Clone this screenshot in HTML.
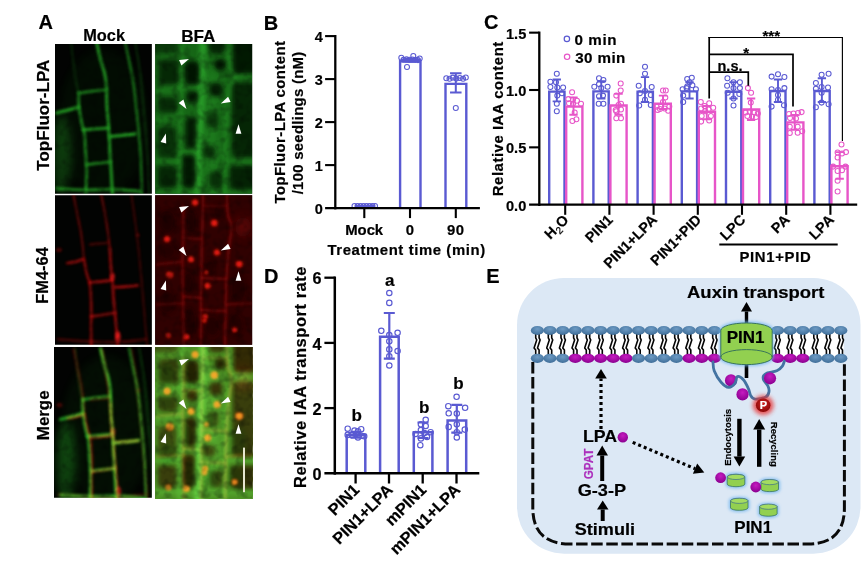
<!DOCTYPE html>
<html><head><meta charset="utf-8"><title>Figure</title>
<style>
html,body{margin:0;padding:0;background:#fff;}
body{width:865px;height:565px;overflow:hidden;}
svg{display:block;font-family:"Liberation Sans",Arial,Helvetica,sans-serif;}
text{stroke-width:0.2px;paint-order:stroke;stroke-linejoin:round}
</style></head><body>
<svg width="865" height="565" viewBox="0 0 865 565">
<defs><filter id="b1" filterUnits="userSpaceOnUse" x="-150" y="-150" width="700" height="900"><feGaussianBlur stdDeviation="5"/></filter><filter id="b2" filterUnits="userSpaceOnUse" x="-150" y="-150" width="700" height="900"><feGaussianBlur stdDeviation="8"/></filter><filter id="b3" filterUnits="userSpaceOnUse" x="-150" y="-150" width="700" height="900"><feGaussianBlur stdDeviation="18"/></filter><filter id="tex" filterUnits="userSpaceOnUse" x="-8" y="-8" width="379" height="591" color-interpolation-filters="sRGB"><feTurbulence type="fractalNoise" baseFrequency="0.03" numOctaves="2" seed="11" result="n"/><feColorMatrix in="n" type="matrix" values="0 0 0 0 0  0 0 0 0 0  0 0 0 0 0  0 0.8 0 0 0.55" result="a"/><feComposite in="SourceGraphic" in2="a" operator="in"/></filter><clipPath id="cl"><rect x="0" y="0" width="363.0" height="565.1"/></clipPath><g id="mockG"><ellipse cx="25" cy="420" rx="35" ry="150" fill="#30e030" opacity="0.28" filter="url(#b3)"/><ellipse cx="180" cy="300" rx="170" ry="280" fill="#30e030" opacity="0.05" filter="url(#b3)"/><path d="M155.0,-5.0 C157.5,5.8 165.0,40.8 170.0,60.0 C175.0,79.2 181.3,93.3 185.0,110.0 C188.7,126.7 190.3,136.7 192.0,160.0 C193.7,183.3 193.7,226.7 195.0,250.0 C196.3,273.3 198.3,275.0 200.0,300.0 C201.7,325.0 203.3,370.0 205.0,400.0 C206.7,430.0 208.3,451.7 210.0,480.0 C211.7,508.3 214.2,555.0 215.0,570.0" fill="none" stroke="#30e030" stroke-width="9" stroke-linecap="round" opacity="0.95" filter="url(#b1)"/><path d="M88.0,185.0 C88.3,194.2 88.0,220.8 90.0,240.0 C92.0,259.2 96.7,283.3 100.0,300.0 C103.3,316.7 107.5,320.0 110.0,340.0 C112.5,360.0 113.7,396.7 115.0,420.0 C116.3,443.3 118.0,455.0 118.0,480.0 C118.0,505.0 115.5,555.0 115.0,570.0" fill="none" stroke="#30e030" stroke-width="8" stroke-linecap="round" opacity="0.9" filter="url(#b1)"/><path d="M262.0,-5.0 C265.0,9.2 274.5,52.5 280.0,80.0 C285.5,107.5 290.8,131.7 295.0,160.0 C299.2,188.3 301.7,218.3 305.0,250.0 C308.3,281.7 312.2,316.7 315.0,350.0 C317.8,383.3 320.3,413.3 322.0,450.0 C323.7,486.7 324.5,550.0 325.0,570.0" fill="none" stroke="#30e030" stroke-width="7" stroke-linecap="round" opacity="0.8" filter="url(#b1)"/><path d="M300.0,-5.0 C303.3,15.8 314.7,77.5 320.0,120.0 C325.3,162.5 327.8,203.3 332.0,250.0 C336.2,296.7 341.7,346.7 345.0,400.0 C348.3,453.3 350.8,541.7 352.0,570.0" fill="none" stroke="#30e030" stroke-width="6" stroke-linecap="round" opacity="0.3" filter="url(#b1)"/><path d="M60.0,-5.0 C62.0,12.5 67.7,68.3 72.0,100.0 C76.3,131.7 83.7,170.8 86.0,185.0" fill="none" stroke="#30e030" stroke-width="6" stroke-linecap="round" opacity="0.25" filter="url(#b1)"/><path d="M90.0,188.0 C98.3,186.7 123.3,182.2 140.0,180.0 C156.7,177.8 181.7,175.8 190.0,175.0" fill="none" stroke="#30e030" stroke-width="8" stroke-linecap="round" opacity="0.8" filter="url(#b1)"/><path d="M5.0,262.0 C11.7,260.3 31.2,255.7 45.0,252.0 C58.8,248.3 80.8,242.0 88.0,240.0" fill="none" stroke="#30e030" stroke-width="10" stroke-linecap="round" opacity="0.9" filter="url(#b1)"/><path d="M105.0,325.0 C112.5,324.5 134.5,323.2 150.0,322.0 C165.5,320.8 190.0,318.7 198.0,318.0" fill="none" stroke="#30e030" stroke-width="9" stroke-linecap="round" opacity="0.9" filter="url(#b1)"/><path d="M205.0,350.0 C212.5,349.3 234.2,347.7 250.0,346.0 C265.8,344.3 291.7,341.0 300.0,340.0" fill="none" stroke="#30e030" stroke-width="10" stroke-linecap="round" opacity="0.95" filter="url(#b1)"/><path d="M118.0,455.0 C125.0,454.2 145.0,451.7 160.0,450.0 C175.0,448.3 200.0,445.8 208.0,445.0" fill="none" stroke="#30e030" stroke-width="8" stroke-linecap="round" opacity="0.85" filter="url(#b1)"/><path d="M5.0,545.0 C24.2,545.8 85.0,549.5 120.0,550.0 C155.0,550.5 181.7,547.2 215.0,548.0 C248.3,548.8 302.5,553.8 320.0,555.0" fill="none" stroke="#30e030" stroke-width="10" stroke-linecap="round" opacity="0.8" filter="url(#b1)"/></g><g id="mockR"><path d="M172.0,-5.0 C174.2,5.8 181.2,39.2 185.0,60.0 C188.8,80.8 191.7,96.7 195.0,120.0 C198.3,143.3 203.3,186.7 205.0,200.0" fill="none" stroke="#ff1212" stroke-width="6" stroke-linecap="round" opacity="0.6" filter="url(#b1)"/><path d="M205.0,200.0 C205.8,213.3 208.3,260.0 210.0,280.0 C211.7,300.0 213.3,300.0 215.0,320.0 C216.7,340.0 217.8,373.3 220.0,400.0 C222.2,426.7 225.3,451.7 228.0,480.0 C230.7,508.3 234.7,555.0 236.0,570.0" fill="none" stroke="#ff1212" stroke-width="7" stroke-linecap="round" opacity="0.9" filter="url(#b1)"/><path d="M68.0,-5.0 C70.8,9.2 79.7,52.5 85.0,80.0 C90.3,107.5 96.2,133.3 100.0,160.0 C103.8,186.7 106.7,226.7 108.0,240.0" fill="none" stroke="#ff1212" stroke-width="6" stroke-linecap="round" opacity="0.55" filter="url(#b1)"/><path d="M108.0,240.0 C110.0,250.0 116.3,285.0 120.0,300.0 C123.7,315.0 127.5,313.3 130.0,330.0 C132.5,346.7 134.2,375.0 135.0,400.0 C135.8,425.0 135.0,451.7 135.0,480.0 C135.0,508.3 135.0,555.0 135.0,570.0" fill="none" stroke="#ff1212" stroke-width="6.5" stroke-linecap="round" opacity="0.85" filter="url(#b1)"/><path d="M285.0,-5.0 C287.5,12.5 295.5,65.8 300.0,100.0 C304.5,134.2 308.3,166.7 312.0,200.0 C315.7,233.3 318.2,258.3 322.0,300.0 C325.8,341.7 331.2,405.0 335.0,450.0 C338.8,495.0 343.3,550.0 345.0,570.0" fill="none" stroke="#ff1212" stroke-width="6" stroke-linecap="round" opacity="0.35" filter="url(#b1)"/><path d="M130.0,185.0 C135.8,184.5 153.3,183.2 165.0,182.0 C176.7,180.8 194.2,178.7 200.0,178.0" fill="none" stroke="#ff1212" stroke-width="6" stroke-linecap="round" opacity="0.5" filter="url(#b1)"/><path d="M45.0,255.0 C50.0,254.2 65.0,252.5 75.0,250.0 C85.0,247.5 100.0,241.7 105.0,240.0" fill="none" stroke="#ff1212" stroke-width="8" stroke-linecap="round" opacity="0.75" filter="url(#b1)"/><path d="M130.0,328.0 C136.7,327.3 155.8,325.7 170.0,324.0 C184.2,322.3 207.5,319.0 215.0,318.0" fill="none" stroke="#ff1212" stroke-width="8" stroke-linecap="round" opacity="0.9" filter="url(#b1)"/><path d="M225.0,345.0 C232.5,344.5 255.8,343.2 270.0,342.0 C284.2,340.8 303.3,338.7 310.0,338.0" fill="none" stroke="#ff1212" stroke-width="8" stroke-linecap="round" opacity="0.85" filter="url(#b1)"/><path d="M135.0,455.0 C142.5,453.8 165.0,450.5 180.0,448.0 C195.0,445.5 217.5,441.3 225.0,440.0" fill="none" stroke="#ff1212" stroke-width="7" stroke-linecap="round" opacity="0.8" filter="url(#b1)"/><path d="M10.0,540.0 C28.3,541.3 81.7,546.3 120.0,548.0 C158.3,549.7 203.3,551.3 240.0,550.0 C276.7,548.7 323.3,541.7 340.0,540.0" fill="none" stroke="#ff1212" stroke-width="8" stroke-linecap="round" opacity="0.4" filter="url(#b1)"/><ellipse cx="235" cy="530" rx="9" ry="20" fill="#ff2020" opacity="0.95" filter="url(#b1)"/><ellipse cx="215" cy="305" rx="8" ry="14" fill="#ff2020" opacity="0.8" filter="url(#b1)"/><ellipse cx="15" cy="205" rx="10" ry="7" fill="#ff1212" opacity="0.5" filter="url(#b1)"/><ellipse cx="310" cy="150" rx="6" ry="6" fill="#ff1212" opacity="0.4" filter="url(#b1)"/></g><g id="bfaG"><rect x="-20" y="-60" width="403.0" height="685.1" fill="#1c801c"/><path d="M181.0,-60.0 C180.8,-50.0 180.8,-31.7 180.0,0.0 C179.2,31.7 177.7,83.3 176.0,130.0 C174.3,176.7 172.3,231.7 170.0,280.0 C167.7,328.3 163.7,360.0 162.0,420.0 C160.3,480.0 160.3,603.3 160.0,640.0" fill="none" stroke="#3ad83a" stroke-width="26" stroke-linecap="round" opacity="0.75" filter="url(#b2)"/><path d="M215.0,100.0 C214.5,125.0 212.8,200.0 212.0,250.0 C211.2,300.0 209.5,355.0 210.0,400.0 C210.5,445.0 214.2,500.0 215.0,520.0" fill="none" stroke="#3ad83a" stroke-width="40" stroke-linecap="round" opacity="0.35" filter="url(#b3)"/><path d="M99.0,-60.0 C98.8,-25.0 98.5,98.3 98.0,150.0 C97.5,201.7 97.0,208.3 96.0,250.0 C95.0,291.7 92.8,335.0 92.0,400.0 C91.2,465.0 91.2,600.0 91.0,640.0" fill="none" stroke="#3ad83a" stroke-width="10" stroke-linecap="round" opacity="0.5" filter="url(#b2)"/><path d="M272.0,-60.0 C272.3,-46.7 272.3,-2.5 274.0,20.0 C275.7,42.5 278.3,60.0 282.0,75.0 C285.7,90.0 296.0,97.5 296.0,110.0 C296.0,122.5 286.7,126.7 282.0,150.0 C277.3,173.3 271.3,205.0 268.0,250.0 C264.7,295.0 263.3,355.0 262.0,420.0 C260.7,485.0 260.3,603.3 260.0,640.0" fill="none" stroke="#3ad83a" stroke-width="10" stroke-linecap="round" opacity="0.55" filter="url(#b2)"/><path d="M0.0,160.0 C8.3,159.7 33.7,159.7 50.0,158.0 C66.3,156.3 90.0,151.3 98.0,150.0" fill="none" stroke="#3ad83a" stroke-width="9" stroke-linecap="round" opacity="0.35" filter="url(#b2)"/><path d="M0.0,270.0 C8.3,268.7 34.0,265.3 50.0,262.0 C66.0,258.7 88.3,252.0 96.0,250.0" fill="none" stroke="#3ad83a" stroke-width="9" stroke-linecap="round" opacity="0.4" filter="url(#b2)"/><path d="M0.0,425.0 L92.0,424.0" fill="none" stroke="#3ad83a" stroke-width="9" stroke-linecap="round" opacity="0.45" filter="url(#b2)"/><path d="M96.0,148.0 L176.0,146.0" fill="none" stroke="#3ad83a" stroke-width="9" stroke-linecap="round" opacity="0.45" filter="url(#b2)"/><path d="M94.0,388.0 L162.0,386.0" fill="none" stroke="#3ad83a" stroke-width="9" stroke-linecap="round" opacity="0.45" filter="url(#b2)"/><path d="M262.0,424.0 L370.0,426.0" fill="none" stroke="#3ad83a" stroke-width="9" stroke-linecap="round" opacity="0.4" filter="url(#b2)"/><path d="M296.0,110.0 L340.0,104.0" fill="none" stroke="#3ad83a" stroke-width="9" stroke-linecap="round" opacity="0.5" filter="url(#b2)"/><path d="M0.0,542.0 L370.0,542.0" fill="none" stroke="#3ad83a" stroke-width="9" stroke-linecap="round" opacity="0.4" filter="url(#b2)"/><rect x="14" y="45" width="74" height="91" rx="16" ry="16" fill="#021202" opacity="0.72" filter="url(#b2)"/><rect x="12" y="185" width="72" height="57" rx="16" ry="16" fill="#021202" opacity="0.7" filter="url(#b2)"/><rect x="10" y="296" width="70" height="115" rx="16" ry="16" fill="#021202" opacity="0.62" filter="url(#b2)"/><rect x="10" y="442" width="70" height="83" rx="16" ry="16" fill="#021202" opacity="0.75" filter="url(#b2)"/><rect x="-30" y="-60" width="116" height="80" rx="16" ry="16" fill="#021202" opacity="0.55" filter="url(#b2)"/><rect x="112" y="50" width="52" height="86" rx="16" ry="16" fill="#021202" opacity="0.95" filter="url(#b2)"/><rect x="117" y="163" width="43" height="40" rx="16" ry="16" fill="#021202" opacity="0.9" filter="url(#b2)"/><rect x="114" y="262" width="38" height="114" rx="16" ry="16" fill="#021202" opacity="0.88" filter="url(#b2)"/><rect x="104" y="401" width="46" height="124" rx="16" ry="16" fill="#021202" opacity="0.9" filter="url(#b2)"/><rect x="222" y="41" width="44" height="44" rx="22" ry="22" fill="#021202" opacity="0.95" filter="url(#b2)"/><rect x="202" y="131" width="50" height="50" rx="16" ry="16" fill="#021202" opacity="0.85" filter="url(#b2)"/><rect x="192" y="240" width="46" height="60" rx="16" ry="16" fill="#021202" opacity="0.6" filter="url(#b2)"/><rect x="178" y="366" width="48" height="45" rx="16" ry="16" fill="#021202" opacity="0.7" filter="url(#b2)"/><rect x="202" y="462" width="50" height="63" rx="16" ry="16" fill="#021202" opacity="0.7" filter="url(#b2)"/><rect x="202" y="-60" width="60" height="80" rx="16" ry="16" fill="#021202" opacity="0.8" filter="url(#b2)"/><rect x="292" y="-60" width="88" height="155" rx="16" ry="16" fill="#021202" opacity="0.9" filter="url(#b2)"/><rect x="288" y="130" width="92" height="280" rx="16" ry="16" fill="#021202" opacity="0.75" filter="url(#b2)"/><rect x="280" y="442" width="100" height="88" rx="16" ry="16" fill="#021202" opacity="0.8" filter="url(#b2)"/></g><g id="bfaR"><rect x="-10" y="-10" width="383.0" height="595.1" fill="#360202"/><ellipse cx="45" cy="100" rx="30" ry="42" fill="#120000" opacity="0.6" filter="url(#b2)"/><ellipse cx="135" cy="100" rx="20" ry="45" fill="#120000" opacity="0.6" filter="url(#b2)"/><ellipse cx="125" cy="330" rx="16" ry="40" fill="#120000" opacity="0.6" filter="url(#b2)"/><ellipse cx="130" cy="475" rx="20" ry="55" fill="#120000" opacity="0.6" filter="url(#b2)"/><ellipse cx="312" cy="350" rx="26" ry="50" fill="#120000" opacity="0.5" filter="url(#b2)"/><ellipse cx="215" cy="490" rx="24" ry="35" fill="#120000" opacity="0.5" filter="url(#b2)"/><ellipse cx="45" cy="400" rx="28" ry="40" fill="#120000" opacity="0.5" filter="url(#b2)"/><ellipse cx="240" cy="60" rx="18" ry="25" fill="#120000" opacity="0.5" filter="url(#b2)"/><ellipse cx="45" cy="210" rx="28" ry="26" fill="#120000" opacity="0.4" filter="url(#b2)"/><ellipse cx="300" cy="485" rx="25" ry="40" fill="#120000" opacity="0.5" filter="url(#b2)"/><ellipse cx="205" cy="270" rx="16" ry="25" fill="#120000" opacity="0.5" filter="url(#b2)"/><ellipse cx="330" cy="120" rx="30" ry="40" fill="#a00808" opacity="0.45" filter="url(#b3)"/><path d="M105.0,40.0 C105.2,58.3 106.3,115.0 106.0,150.0 C105.7,185.0 103.3,220.0 103.0,250.0 C102.7,280.0 103.5,301.7 104.0,330.0 C104.5,358.3 105.3,380.0 106.0,420.0 C106.7,460.0 107.7,545.0 108.0,570.0" fill="none" stroke="#ff1212" stroke-width="6" stroke-linecap="round" opacity="0.5" filter="url(#b1)"/><path d="M180.0,-5.0 C179.7,12.5 178.8,65.8 178.0,100.0 C177.2,134.2 175.7,166.7 175.0,200.0 C174.3,233.3 174.5,266.7 174.0,300.0 C173.5,333.3 172.3,355.0 172.0,400.0 C171.7,445.0 172.0,541.7 172.0,570.0" fill="none" stroke="#ff1212" stroke-width="6" stroke-linecap="round" opacity="0.55" filter="url(#b1)"/><path d="M270.0,-5.0 C270.3,7.5 269.3,49.2 272.0,70.0 C274.7,90.8 285.3,98.3 286.0,120.0 C286.7,141.7 279.0,170.0 276.0,200.0 C273.0,230.0 269.8,266.7 268.0,300.0 C266.2,333.3 266.0,355.0 265.0,400.0 C264.0,445.0 262.5,541.7 262.0,570.0" fill="none" stroke="#ff1212" stroke-width="6" stroke-linecap="round" opacity="0.55" filter="url(#b1)"/><path d="M5.0,260.0 L100.0,250.0" fill="none" stroke="#ff1212" stroke-width="6" stroke-linecap="round" opacity="0.4" filter="url(#b1)"/><path d="M5.0,410.0 L105.0,405.0" fill="none" stroke="#ff1212" stroke-width="6" stroke-linecap="round" opacity="0.35" filter="url(#b1)"/><path d="M105.0,380.0 L172.0,385.0" fill="none" stroke="#ff1212" stroke-width="6" stroke-linecap="round" opacity="0.45" filter="url(#b1)"/><path d="M174.0,310.0 L268.0,315.0" fill="none" stroke="#ff1212" stroke-width="6" stroke-linecap="round" opacity="0.45" filter="url(#b1)"/><path d="M172.0,430.0 L265.0,435.0" fill="none" stroke="#ff1212" stroke-width="6" stroke-linecap="round" opacity="0.45" filter="url(#b1)"/><path d="M265.0,410.0 L360.0,405.0" fill="none" stroke="#ff1212" stroke-width="6" stroke-linecap="round" opacity="0.4" filter="url(#b1)"/><path d="M105.0,160.0 L175.0,165.0" fill="none" stroke="#ff1212" stroke-width="6" stroke-linecap="round" opacity="0.35" filter="url(#b1)"/><path d="M180.0,40.0 L270.0,42.0" fill="none" stroke="#ff1212" stroke-width="6" stroke-linecap="round" opacity="0.3" filter="url(#b1)"/><ellipse cx="150" cy="28" rx="11.0" ry="11.0" fill="#ff1810" opacity="1" filter="url(#b1)"/><ellipse cx="150" cy="28" rx="6.0" ry="6.0" fill="#ff2818" opacity="1" filter="url(#b1)"/><ellipse cx="222" cy="105" rx="12.100000000000001" ry="12.100000000000001" fill="#ff1810" opacity="1" filter="url(#b1)"/><ellipse cx="222" cy="105" rx="6.6" ry="6.6" fill="#ff2818" opacity="1" filter="url(#b1)"/><ellipse cx="45" cy="165" rx="11.0" ry="11.0" fill="#ff1810" opacity="1" filter="url(#b1)"/><ellipse cx="45" cy="165" rx="6.0" ry="6.0" fill="#ff2818" opacity="1" filter="url(#b1)"/><ellipse cx="135" cy="240" rx="11.0" ry="11.0" fill="#ff1810" opacity="1" filter="url(#b1)"/><ellipse cx="135" cy="240" rx="6.0" ry="6.0" fill="#ff2818" opacity="1" filter="url(#b1)"/><ellipse cx="232" cy="215" rx="11.0" ry="11.0" fill="#ff1810" opacity="1" filter="url(#b1)"/><ellipse cx="232" cy="215" rx="6.0" ry="6.0" fill="#ff2818" opacity="1" filter="url(#b1)"/><ellipse cx="315" cy="258" rx="12.100000000000001" ry="12.100000000000001" fill="#ff1810" opacity="1" filter="url(#b1)"/><ellipse cx="315" cy="258" rx="6.6" ry="6.6" fill="#ff2818" opacity="1" filter="url(#b1)"/><ellipse cx="55" cy="298" rx="12.100000000000001" ry="12.100000000000001" fill="#ff1810" opacity="1" filter="url(#b1)"/><ellipse cx="55" cy="298" rx="6.6" ry="6.6" fill="#ff2818" opacity="1" filter="url(#b1)"/><ellipse cx="192" cy="290" rx="6.6000000000000005" ry="6.6000000000000005" fill="#ff1810" opacity="1" filter="url(#b1)"/><ellipse cx="192" cy="290" rx="3.5999999999999996" ry="3.5999999999999996" fill="#ff2818" opacity="1" filter="url(#b1)"/><ellipse cx="197" cy="340" rx="11.0" ry="11.0" fill="#ff1810" opacity="1" filter="url(#b1)"/><ellipse cx="197" cy="340" rx="6.0" ry="6.0" fill="#ff2818" opacity="1" filter="url(#b1)"/><ellipse cx="188" cy="455" rx="8.8" ry="8.8" fill="#ff1810" opacity="1" filter="url(#b1)"/><ellipse cx="188" cy="455" rx="4.8" ry="4.8" fill="#ff2818" opacity="1" filter="url(#b1)"/><ellipse cx="185" cy="470" rx="7.700000000000001" ry="7.700000000000001" fill="#ff1810" opacity="1" filter="url(#b1)"/><ellipse cx="185" cy="470" rx="4.2" ry="4.2" fill="#ff2818" opacity="1" filter="url(#b1)"/><ellipse cx="298" cy="505" rx="8.8" ry="8.8" fill="#ff1810" opacity="1" filter="url(#b1)"/><ellipse cx="298" cy="505" rx="4.8" ry="4.8" fill="#ff2818" opacity="1" filter="url(#b1)"/><ellipse cx="50" cy="525" rx="8.8" ry="8.8" fill="#ff1810" opacity="1" filter="url(#b1)"/><ellipse cx="50" cy="525" rx="4.8" ry="4.8" fill="#ff2818" opacity="1" filter="url(#b1)"/><ellipse cx="118" cy="530" rx="9.9" ry="9.9" fill="#ff1810" opacity="1" filter="url(#b1)"/><ellipse cx="118" cy="530" rx="5.3999999999999995" ry="5.3999999999999995" fill="#ff2818" opacity="1" filter="url(#b1)"/></g><g id="bfaS"><ellipse cx="150" cy="28" rx="10.5" ry="10.5" fill="#f0a020" opacity="1" filter="url(#b1)"/><ellipse cx="150" cy="28" rx="6.0" ry="6.0" fill="#f8b028" opacity="1" filter="url(#b1)"/><ellipse cx="222" cy="105" rx="11.55" ry="11.55" fill="#f0a020" opacity="1" filter="url(#b1)"/><ellipse cx="222" cy="105" rx="6.6" ry="6.6" fill="#f8b028" opacity="1" filter="url(#b1)"/><ellipse cx="45" cy="165" rx="10.5" ry="10.5" fill="#f0a020" opacity="1" filter="url(#b1)"/><ellipse cx="45" cy="165" rx="6.0" ry="6.0" fill="#f8b028" opacity="1" filter="url(#b1)"/><ellipse cx="135" cy="240" rx="10.5" ry="10.5" fill="#f0a020" opacity="1" filter="url(#b1)"/><ellipse cx="135" cy="240" rx="6.0" ry="6.0" fill="#f8b028" opacity="1" filter="url(#b1)"/><ellipse cx="232" cy="215" rx="10.5" ry="10.5" fill="#f0a020" opacity="1" filter="url(#b1)"/><ellipse cx="232" cy="215" rx="6.0" ry="6.0" fill="#f8b028" opacity="1" filter="url(#b1)"/><ellipse cx="315" cy="258" rx="11.55" ry="11.55" fill="#f0a020" opacity="1" filter="url(#b1)"/><ellipse cx="315" cy="258" rx="6.6" ry="6.6" fill="#f8b028" opacity="1" filter="url(#b1)"/><ellipse cx="55" cy="298" rx="11.55" ry="11.55" fill="#f0a020" opacity="1" filter="url(#b1)"/><ellipse cx="55" cy="298" rx="6.6" ry="6.6" fill="#f8b028" opacity="1" filter="url(#b1)"/><ellipse cx="192" cy="290" rx="6.300000000000001" ry="6.300000000000001" fill="#f0a020" opacity="1" filter="url(#b1)"/><ellipse cx="192" cy="290" rx="3.5999999999999996" ry="3.5999999999999996" fill="#f8b028" opacity="1" filter="url(#b1)"/><ellipse cx="197" cy="340" rx="10.5" ry="10.5" fill="#f0a020" opacity="1" filter="url(#b1)"/><ellipse cx="197" cy="340" rx="6.0" ry="6.0" fill="#f8b028" opacity="1" filter="url(#b1)"/><ellipse cx="188" cy="455" rx="8.4" ry="8.4" fill="#f0a020" opacity="1" filter="url(#b1)"/><ellipse cx="188" cy="455" rx="4.8" ry="4.8" fill="#f8b028" opacity="1" filter="url(#b1)"/><ellipse cx="185" cy="470" rx="7.3500000000000005" ry="7.3500000000000005" fill="#f0a020" opacity="1" filter="url(#b1)"/><ellipse cx="185" cy="470" rx="4.2" ry="4.2" fill="#f8b028" opacity="1" filter="url(#b1)"/><ellipse cx="298" cy="505" rx="8.4" ry="8.4" fill="#f0a020" opacity="1" filter="url(#b1)"/><ellipse cx="298" cy="505" rx="4.8" ry="4.8" fill="#f8b028" opacity="1" filter="url(#b1)"/><ellipse cx="50" cy="525" rx="8.4" ry="8.4" fill="#f0a020" opacity="1" filter="url(#b1)"/><ellipse cx="50" cy="525" rx="4.8" ry="4.8" fill="#f8b028" opacity="1" filter="url(#b1)"/><ellipse cx="118" cy="530" rx="9.450000000000001" ry="9.450000000000001" fill="#f0a020" opacity="1" filter="url(#b1)"/><ellipse cx="118" cy="530" rx="5.3999999999999995" ry="5.3999999999999995" fill="#f8b028" opacity="1" filter="url(#b1)"/></g><clipPath id="ic1"><rect x="55.0" y="44.0" width="96.85" height="149.70"/></clipPath><clipPath id="ic2"><rect x="155.15" y="44.0" width="97.00" height="149.70"/></clipPath><clipPath id="ic3"><rect x="55.0" y="195.25" width="96.85" height="149.45"/></clipPath><clipPath id="ic4"><rect x="155.15" y="195.25" width="97.00" height="149.45"/></clipPath><clipPath id="ic5"><rect x="54.0" y="347.0" width="97.85" height="150.70"/></clipPath><clipPath id="ic6"><rect x="155.15" y="347.2" width="97.00" height="151.40"/></clipPath><filter id="glow" x="-30%" y="-30%" width="160%" height="160%"><feGaussianBlur stdDeviation="1.6"/></filter><filter id="glow2" x="-50%" y="-50%" width="200%" height="200%"><feGaussianBlur stdDeviation="2.2"/></filter><radialGradient id="hd" cx="50%" cy="35%" r="65%"><stop offset="0" stop-color="#6e9bc4"/><stop offset="1" stop-color="#3f6e99"/></radialGradient><radialGradient id="hm" cx="50%" cy="35%" r="65%"><stop offset="0" stop-color="#c61cc0"/><stop offset="1" stop-color="#8a0090"/></radialGradient><radialGradient id="pr" cx="50%" cy="40%" r="60%"><stop offset="0" stop-color="#d02020"/><stop offset="1" stop-color="#8a0808"/></radialGradient></defs>
<rect width="865" height="565" fill="#fff"/>
<g style="isolation:isolate">
<g clip-path="url(#ic1)">
<rect x="54.0" y="43.0" width="98.85" height="151.70" fill="#020302"/>
<g transform="translate(55.0,43.0) scale(0.26722)">
<g filter="url(#tex)">
<use href="#mockG" transform="translate(0,0)" opacity="0.85"/>
</g></g></g>
<g clip-path="url(#ic2)">
<rect x="154.15" y="43.0" width="99.00" height="151.70" fill="#020302"/>
<g transform="translate(155.0,43.0) scale(0.26722)">
<g filter="url(#tex)">
<use href="#bfaG" transform="translate(0,18)" opacity="0.8"/>
</g></g></g>
<g clip-path="url(#ic3)">
<rect x="54.0" y="194.25" width="98.85" height="151.45" fill="#020302"/>
<g transform="translate(55.0,195.0) scale(0.26722)">
<g filter="url(#tex)">
<use href="#mockR" transform="translate(0,0)" opacity="0.95"/>
</g></g></g>
<g clip-path="url(#ic4)">
<rect x="154.15" y="194.25" width="99.00" height="151.45" fill="#020302"/>
<g transform="translate(155.0,195.0) scale(0.26722)">
<g filter="url(#tex)">
<use href="#bfaR" transform="translate(0,0)" opacity="0.9"/>
</g></g></g>
<g clip-path="url(#ic5)">
<rect x="53.0" y="346.0" width="99.85" height="152.70" fill="#020302"/>
<g transform="translate(55.0,347.0) scale(0.26722)">
<g filter="url(#tex)">
<use href="#mockG" transform="translate(15,9)" opacity="1"/>
<use href="#mockR" transform="translate(2,12)" opacity="0.8" style="mix-blend-mode:screen"/>
</g></g></g>
<g clip-path="url(#ic6)">
<rect x="154.15" y="346.2" width="99.00" height="153.40" fill="#020302"/>
<g transform="translate(155.0,347.0) scale(0.26722)">
<g filter="url(#tex)">
<use href="#bfaG" transform="translate(0,0)" opacity="1"/>
<use href="#bfaG" transform="translate(0,0)" opacity="0.3" style="mix-blend-mode:screen"/>
<use href="#bfaR" transform="translate(0,0)" opacity="0.9" style="mix-blend-mode:screen"/>
<use href="#bfaS" transform="translate(0,0)" opacity="0.85"/>
</g></g></g>
</g>
<polygon points="189.0,59.0 181.4,65.4 179.1,60.0" fill="#fff"/>
<polygon points="186.5,109.0 178.7,102.9 183.4,99.6" fill="#fff"/>
<polygon points="220.8,103.6 228.1,96.8 230.6,102.0" fill="#fff"/>
<polygon points="238.5,124.2 241.4,133.7 235.6,133.7" fill="#fff"/>
<polygon points="165.9,133.5 166.2,143.4 160.6,141.9" fill="#fff"/>
<polygon points="189.0,206.0 181.4,212.4 179.1,207.0" fill="#fff"/>
<polygon points="186.5,256.0 178.7,249.9 183.4,246.6" fill="#fff"/>
<polygon points="220.8,250.6 228.1,243.8 230.6,249.0" fill="#fff"/>
<polygon points="238.5,271.2 241.4,280.7 235.6,280.7" fill="#fff"/>
<polygon points="165.9,280.5 166.2,290.4 160.6,288.9" fill="#fff"/>
<polygon points="189.0,359.0 181.4,365.4 179.1,360.0" fill="#fff"/>
<polygon points="186.5,409.0 178.7,402.9 183.4,399.6" fill="#fff"/>
<polygon points="220.8,403.6 228.1,396.8 230.6,402.0" fill="#fff"/>
<polygon points="238.5,424.2 241.4,433.7 235.6,433.7" fill="#fff"/>
<polygon points="165.9,433.5 166.2,443.4 160.6,441.9" fill="#fff"/>
<rect x="243.0" y="447.6" width="2.0" height="44.6" fill="#e6e6d0"/>
<text x="38.60" y="28.50" font-size="20.00" fill="#000" stroke="#000" font-weight="bold" >A</text>
<text x="83.20" y="40.80" font-size="16.35" fill="#000" stroke="#000" font-weight="bold" >Mock</text>
<text x="181.24" y="41.80" font-size="17.11" fill="#000" stroke="#000" font-weight="bold" >BFA</text>
<text transform="translate(48.90,170.71) rotate(-90)" font-size="17.06" fill="#000" stroke="#000" font-weight="bold" >TopFluor-LPA</text>
<text transform="translate(47.60,303.81) rotate(-90)" font-size="16.43" fill="#000" stroke="#000" font-weight="bold" >FM4-64</text>
<text transform="translate(49.00,440.14) rotate(-90)" font-size="16.87" fill="#000" stroke="#000" font-weight="bold" >Merge</text>
<text x="263.65" y="29.80" font-size="20.00" fill="#000" stroke="#000" font-weight="bold" >B</text>
<text x="322.80" y="214.10" font-size="14.5" text-anchor="end" fill="#000" stroke="#000" font-weight="bold" >0</text>
<text x="322.80" y="171.10" font-size="14.5" text-anchor="end" fill="#000" stroke="#000" font-weight="bold" >1</text>
<text x="322.80" y="128.10" font-size="14.5" text-anchor="end" fill="#000" stroke="#000" font-weight="bold" >2</text>
<text x="322.80" y="85.10" font-size="14.5" text-anchor="end" fill="#000" stroke="#000" font-weight="bold" >3</text>
<text x="322.80" y="42.10" font-size="14.5" text-anchor="end" fill="#000" stroke="#000" font-weight="bold" >4</text>
<text x="345.29" y="235.00" font-size="14.90" style="letter-spacing:-0.067px" fill="#000" stroke="#000" font-weight="bold" >Mock</text>
<text x="405.82" y="235.00" font-size="14.90" fill="#000" stroke="#000" font-weight="bold" >0</text>
<text x="447.08" y="235.00" font-size="14.90" style="letter-spacing:0.279px" fill="#000" stroke="#000" font-weight="bold" >90</text>
<text x="327.41" y="254.70" font-size="14.90" style="letter-spacing:0.594px" fill="#000" stroke="#000" font-weight="bold" >Treatment time (min)</text>
<text transform="translate(285.30,203.49) rotate(-90)" font-size="14.90" style="letter-spacing:0.421px" fill="#000" stroke="#000" font-weight="bold" >TopFluor-LPA content</text>
<text transform="translate(302.80,194.35) rotate(-90)" font-size="14.90" style="letter-spacing:0.291px" fill="#000" stroke="#000" font-weight="bold" >/100 seedlings (nM)</text>
<path d="M400.10,208.10 V61.20 H420.50 V208.10" fill="none" stroke="#5a5ad2" stroke-width="2.4"/>
<path d="M445.50,208.10 V83.90 H466.30 V208.10" fill="none" stroke="#5a5ad2" stroke-width="2.4"/>
<path d="M450.05,73.30 H461.55 M450.05,92.40 H461.55 M455.80,73.30 V92.40" fill="none" stroke="#5a5ad2" stroke-width="2"/>
<path d="M404.55,58.40 H416.05 M404.55,61.80 H416.05 M410.30,58.40 V61.80" fill="none" stroke="#5a5ad2" stroke-width="2"/>
<circle cx="354.50" cy="206.00" r="2.5" fill="none" stroke="#5a5ad2" stroke-width="1.05"/>
<circle cx="357.50" cy="206.00" r="2.5" fill="none" stroke="#5a5ad2" stroke-width="1.05"/>
<circle cx="360.50" cy="206.00" r="2.5" fill="none" stroke="#5a5ad2" stroke-width="1.05"/>
<circle cx="363.50" cy="206.00" r="2.5" fill="none" stroke="#5a5ad2" stroke-width="1.05"/>
<circle cx="366.50" cy="206.00" r="2.5" fill="none" stroke="#5a5ad2" stroke-width="1.05"/>
<circle cx="369.50" cy="206.00" r="2.5" fill="none" stroke="#5a5ad2" stroke-width="1.05"/>
<circle cx="372.50" cy="206.00" r="2.5" fill="none" stroke="#5a5ad2" stroke-width="1.05"/>
<circle cx="375.00" cy="206.00" r="2.5" fill="none" stroke="#5a5ad2" stroke-width="1.05"/>
<line x1="355.00" y1="206.20" x2="375.00" y2="206.20" stroke="#5a5ad2" stroke-width="2.8" />
<circle cx="401.30" cy="57.70" r="2.5" fill="none" stroke="#5a5ad2" stroke-width="1.05"/>
<circle cx="413.30" cy="55.90" r="2.5" fill="none" stroke="#5a5ad2" stroke-width="1.05"/>
<circle cx="419.70" cy="58.40" r="2.5" fill="none" stroke="#5a5ad2" stroke-width="1.05"/>
<circle cx="407.00" cy="66.90" r="2.5" fill="none" stroke="#5a5ad2" stroke-width="1.05"/>
<circle cx="403.50" cy="59.80" r="2.5" fill="none" stroke="#5a5ad2" stroke-width="1.05"/>
<circle cx="406.50" cy="59.30" r="2.5" fill="none" stroke="#5a5ad2" stroke-width="1.05"/>
<circle cx="409.50" cy="59.80" r="2.5" fill="none" stroke="#5a5ad2" stroke-width="1.05"/>
<circle cx="412.50" cy="59.50" r="2.5" fill="none" stroke="#5a5ad2" stroke-width="1.05"/>
<circle cx="415.50" cy="59.80" r="2.5" fill="none" stroke="#5a5ad2" stroke-width="1.05"/>
<circle cx="418.00" cy="60.10" r="2.5" fill="none" stroke="#5a5ad2" stroke-width="1.05"/>
<line x1="401.00" y1="59.90" x2="420.00" y2="59.90" stroke="#5a5ad2" stroke-width="3.0" />
<circle cx="446.30" cy="78.20" r="2.5" fill="none" stroke="#5a5ad2" stroke-width="1.05"/>
<circle cx="449.50" cy="78.80" r="2.5" fill="none" stroke="#5a5ad2" stroke-width="1.05"/>
<circle cx="452.80" cy="77.60" r="2.5" fill="none" stroke="#5a5ad2" stroke-width="1.05"/>
<circle cx="456.30" cy="78.60" r="2.5" fill="none" stroke="#5a5ad2" stroke-width="1.05"/>
<circle cx="459.80" cy="78.00" r="2.5" fill="none" stroke="#5a5ad2" stroke-width="1.05"/>
<circle cx="463.10" cy="78.80" r="2.5" fill="none" stroke="#5a5ad2" stroke-width="1.05"/>
<circle cx="465.80" cy="77.40" r="2.5" fill="none" stroke="#5a5ad2" stroke-width="1.05"/>
<circle cx="455.80" cy="108.00" r="2.5" fill="none" stroke="#5a5ad2" stroke-width="1.05"/>
<line x1="447.00" y1="78.30" x2="465.00" y2="78.30" stroke="#5a5ad2" stroke-width="2.0" opacity="0.6"/>
<line x1="335.30" y1="35.00" x2="335.30" y2="209.40" stroke="#000" stroke-width="2.3"/>
<line x1="325.10" y1="208.10" x2="479.90" y2="208.10" stroke="#000" stroke-width="2.3"/>
<line x1="325.10" y1="165.10" x2="335.30" y2="165.10" stroke="#000" stroke-width="2.1"/>
<line x1="325.10" y1="122.10" x2="335.30" y2="122.10" stroke="#000" stroke-width="2.1"/>
<line x1="325.10" y1="79.10" x2="335.30" y2="79.10" stroke="#000" stroke-width="2.1"/>
<line x1="325.10" y1="36.10" x2="335.30" y2="36.10" stroke="#000" stroke-width="2.1"/>
<line x1="364.30" y1="208.10" x2="364.30" y2="218.10" stroke="#000" stroke-width="2.1"/>
<line x1="410.00" y1="208.10" x2="410.00" y2="218.10" stroke="#000" stroke-width="2.1"/>
<line x1="455.80" y1="208.10" x2="455.80" y2="218.10" stroke="#000" stroke-width="2.1"/>
<text x="483.95" y="28.90" font-size="20.00" fill="#000" stroke="#000" font-weight="bold" >C</text>
<text x="526.30" y="210.70" font-size="14.6" text-anchor="end" fill="#000" stroke="#000" font-weight="bold" >0.0</text>
<text x="526.30" y="153.35" font-size="14.6" text-anchor="end" fill="#000" stroke="#000" font-weight="bold" >0.5</text>
<text x="526.30" y="96.00" font-size="14.6" text-anchor="end" fill="#000" stroke="#000" font-weight="bold" >1.0</text>
<text x="526.30" y="38.65" font-size="14.6" text-anchor="end" fill="#000" stroke="#000" font-weight="bold" >1.5</text>
<text transform="translate(502.70,196.21) rotate(-90)" font-size="14.90" style="letter-spacing:0.539px" fill="#000" stroke="#000" font-weight="bold" >Relative IAA content</text>
<circle cx="566.90" cy="38.90" r="2.7" fill="none" stroke="#5a5ad2" stroke-width="1.2"/>
<text x="574.49" y="44.90" font-size="15.20" style="letter-spacing:0.612px" fill="#000" stroke="#000" font-weight="bold" >0 min</text>
<circle cx="567.10" cy="56.80" r="2.7" fill="none" stroke="#e755c8" stroke-width="1.2"/>
<text x="575.26" y="62.90" font-size="15.20" style="letter-spacing:0.402px" fill="#000" stroke="#000" font-weight="bold" >30 min</text>
<path d="M549.20,204.70 V91.60 H564.50 V204.70" fill="none" stroke="#5a5ad2" stroke-width="2.4"/>
<path d="M552.65,79.50 H560.95 M552.65,101.40 H560.95 M556.80,79.50 V101.40" fill="none" stroke="#5a5ad2" stroke-width="1.9"/>
<circle cx="556.80" cy="73.70" r="2.5" fill="none" stroke="#5a5ad2" stroke-width="1.05"/>
<circle cx="550.40" cy="81.80" r="2.5" fill="none" stroke="#5a5ad2" stroke-width="1.05"/>
<circle cx="550.40" cy="87.00" r="2.5" fill="none" stroke="#5a5ad2" stroke-width="1.05"/>
<circle cx="563.10" cy="87.50" r="2.5" fill="none" stroke="#5a5ad2" stroke-width="1.05"/>
<circle cx="556.00" cy="82.30" r="2.5" fill="none" stroke="#5a5ad2" stroke-width="1.05"/>
<circle cx="557.30" cy="87.50" r="2.5" fill="none" stroke="#5a5ad2" stroke-width="1.05"/>
<circle cx="557.30" cy="95.60" r="2.5" fill="none" stroke="#5a5ad2" stroke-width="1.05"/>
<circle cx="562.00" cy="93.30" r="2.5" fill="none" stroke="#5a5ad2" stroke-width="1.05"/>
<circle cx="556.80" cy="103.70" r="2.5" fill="none" stroke="#5a5ad2" stroke-width="1.05"/>
<circle cx="556.80" cy="111.20" r="2.5" fill="none" stroke="#5a5ad2" stroke-width="1.05"/>
<path d="M566.20,204.70 V106.60 H582.40 V204.70" fill="none" stroke="#e755c8" stroke-width="2.4"/>
<path d="M569.35,97.40 H577.65 M569.35,114.70 H577.65 M573.50,97.40 V114.70" fill="none" stroke="#e755c8" stroke-width="1.9"/>
<circle cx="572.10" cy="92.20" r="2.5" fill="none" stroke="#e755c8" stroke-width="1.05"/>
<circle cx="568.30" cy="99.10" r="2.5" fill="none" stroke="#e755c8" stroke-width="1.05"/>
<circle cx="573.00" cy="99.70" r="2.5" fill="none" stroke="#e755c8" stroke-width="1.05"/>
<circle cx="577.00" cy="100.80" r="2.5" fill="none" stroke="#e755c8" stroke-width="1.05"/>
<circle cx="581.00" cy="103.70" r="2.5" fill="none" stroke="#e755c8" stroke-width="1.05"/>
<circle cx="569.00" cy="103.20" r="2.5" fill="none" stroke="#e755c8" stroke-width="1.05"/>
<circle cx="573.00" cy="103.70" r="2.5" fill="none" stroke="#e755c8" stroke-width="1.05"/>
<circle cx="574.70" cy="112.40" r="2.5" fill="none" stroke="#e755c8" stroke-width="1.05"/>
<circle cx="572.40" cy="121.00" r="2.5" fill="none" stroke="#e755c8" stroke-width="1.05"/>
<circle cx="576.40" cy="119.30" r="2.5" fill="none" stroke="#e755c8" stroke-width="1.05"/>
<text transform="translate(569.60,220.70) rotate(-45)" font-size="14.5" text-anchor="end" fill="#000" stroke="#000" font-weight="bold" >H<tspan font-size="10" dy="3" font-weight="normal">2</tspan><tspan dy="-3">O</tspan></text>
<path d="M593.40,204.70 V91.40 H608.70 V204.70" fill="none" stroke="#5a5ad2" stroke-width="2.4"/>
<path d="M597.15,81.20 H605.45 M597.15,98.50 H605.45 M601.30,81.20 V98.50" fill="none" stroke="#5a5ad2" stroke-width="1.9"/>
<circle cx="599.00" cy="78.30" r="2.5" fill="none" stroke="#5a5ad2" stroke-width="1.05"/>
<circle cx="603.40" cy="80.00" r="2.5" fill="none" stroke="#5a5ad2" stroke-width="1.05"/>
<circle cx="594.30" cy="86.70" r="2.5" fill="none" stroke="#5a5ad2" stroke-width="1.05"/>
<circle cx="607.60" cy="86.70" r="2.5" fill="none" stroke="#5a5ad2" stroke-width="1.05"/>
<circle cx="599.00" cy="84.10" r="2.5" fill="none" stroke="#5a5ad2" stroke-width="1.05"/>
<circle cx="601.30" cy="88.10" r="2.5" fill="none" stroke="#5a5ad2" stroke-width="1.05"/>
<circle cx="599.00" cy="96.20" r="2.5" fill="none" stroke="#5a5ad2" stroke-width="1.05"/>
<circle cx="603.00" cy="95.60" r="2.5" fill="none" stroke="#5a5ad2" stroke-width="1.05"/>
<circle cx="598.70" cy="103.70" r="2.5" fill="none" stroke="#5a5ad2" stroke-width="1.05"/>
<circle cx="603.40" cy="103.70" r="2.5" fill="none" stroke="#5a5ad2" stroke-width="1.05"/>
<path d="M610.40,204.70 V105.50 H626.60 V204.70" fill="none" stroke="#e755c8" stroke-width="2.4"/>
<path d="M614.45,93.90 H622.75 M614.45,114.70 H622.75 M618.60,93.90 V114.70" fill="none" stroke="#e755c8" stroke-width="1.9"/>
<circle cx="620.70" cy="83.50" r="2.5" fill="none" stroke="#e755c8" stroke-width="1.05"/>
<circle cx="620.70" cy="90.40" r="2.5" fill="none" stroke="#e755c8" stroke-width="1.05"/>
<circle cx="616.30" cy="95.60" r="2.5" fill="none" stroke="#e755c8" stroke-width="1.05"/>
<circle cx="621.00" cy="103.70" r="2.5" fill="none" stroke="#e755c8" stroke-width="1.05"/>
<circle cx="615.70" cy="110.00" r="2.5" fill="none" stroke="#e755c8" stroke-width="1.05"/>
<circle cx="621.00" cy="109.50" r="2.5" fill="none" stroke="#e755c8" stroke-width="1.05"/>
<circle cx="616.30" cy="111.20" r="2.5" fill="none" stroke="#e755c8" stroke-width="1.05"/>
<circle cx="616.30" cy="118.20" r="2.5" fill="none" stroke="#e755c8" stroke-width="1.05"/>
<circle cx="621.00" cy="118.20" r="2.5" fill="none" stroke="#e755c8" stroke-width="1.05"/>
<circle cx="618.50" cy="105.00" r="2.5" fill="none" stroke="#e755c8" stroke-width="1.05"/>
<text transform="translate(613.80,220.70) rotate(-45)" font-size="14.5" text-anchor="end" fill="#000" stroke="#000" font-weight="bold" >PIN1</text>
<path d="M637.60,204.70 V91.60 H652.90 V204.70" fill="none" stroke="#5a5ad2" stroke-width="2.4"/>
<path d="M640.85,77.10 H649.15 M640.85,102.00 H649.15 M645.00,77.10 V102.00" fill="none" stroke="#5a5ad2" stroke-width="1.9"/>
<circle cx="645.00" cy="66.70" r="2.5" fill="none" stroke="#5a5ad2" stroke-width="1.05"/>
<circle cx="645.00" cy="73.70" r="2.5" fill="none" stroke="#5a5ad2" stroke-width="1.05"/>
<circle cx="638.70" cy="85.80" r="2.5" fill="none" stroke="#5a5ad2" stroke-width="1.05"/>
<circle cx="651.70" cy="87.00" r="2.5" fill="none" stroke="#5a5ad2" stroke-width="1.05"/>
<circle cx="639.80" cy="93.30" r="2.5" fill="none" stroke="#5a5ad2" stroke-width="1.05"/>
<circle cx="650.80" cy="95.00" r="2.5" fill="none" stroke="#5a5ad2" stroke-width="1.05"/>
<circle cx="645.00" cy="99.70" r="2.5" fill="none" stroke="#5a5ad2" stroke-width="1.05"/>
<circle cx="639.20" cy="105.50" r="2.5" fill="none" stroke="#5a5ad2" stroke-width="1.05"/>
<circle cx="650.80" cy="104.90" r="2.5" fill="none" stroke="#5a5ad2" stroke-width="1.05"/>
<circle cx="645.00" cy="91.00" r="2.5" fill="none" stroke="#5a5ad2" stroke-width="1.05"/>
<path d="M654.60,204.70 V103.70 H670.80 V204.70" fill="none" stroke="#e755c8" stroke-width="2.4"/>
<path d="M658.85,95.60 H667.15 M658.85,109.00 H667.15 M663.00,95.60 V109.00" fill="none" stroke="#e755c8" stroke-width="1.9"/>
<circle cx="663.00" cy="90.40" r="2.5" fill="none" stroke="#e755c8" stroke-width="1.05"/>
<circle cx="665.80" cy="90.40" r="2.5" fill="none" stroke="#e755c8" stroke-width="1.05"/>
<circle cx="665.30" cy="97.40" r="2.5" fill="none" stroke="#e755c8" stroke-width="1.05"/>
<circle cx="663.00" cy="102.00" r="2.5" fill="none" stroke="#e755c8" stroke-width="1.05"/>
<circle cx="656.60" cy="106.60" r="2.5" fill="none" stroke="#e755c8" stroke-width="1.05"/>
<circle cx="660.00" cy="109.00" r="2.5" fill="none" stroke="#e755c8" stroke-width="1.05"/>
<circle cx="664.70" cy="108.40" r="2.5" fill="none" stroke="#e755c8" stroke-width="1.05"/>
<circle cx="669.30" cy="106.60" r="2.5" fill="none" stroke="#e755c8" stroke-width="1.05"/>
<circle cx="657.70" cy="110.00" r="2.5" fill="none" stroke="#e755c8" stroke-width="1.05"/>
<circle cx="668.20" cy="110.70" r="2.5" fill="none" stroke="#e755c8" stroke-width="1.05"/>
<text transform="translate(658.00,220.70) rotate(-45)" font-size="14.5" text-anchor="end" fill="#000" stroke="#000" font-weight="bold" >PIN1+LPA</text>
<path d="M681.80,204.70 V91.40 H697.10 V204.70" fill="none" stroke="#5a5ad2" stroke-width="2.4"/>
<path d="M685.35,82.30 H693.65 M685.35,98.50 H693.65 M689.50,82.30 V98.50" fill="none" stroke="#5a5ad2" stroke-width="1.9"/>
<circle cx="687.20" cy="78.90" r="2.5" fill="none" stroke="#5a5ad2" stroke-width="1.05"/>
<circle cx="691.80" cy="77.70" r="2.5" fill="none" stroke="#5a5ad2" stroke-width="1.05"/>
<circle cx="689.50" cy="82.30" r="2.5" fill="none" stroke="#5a5ad2" stroke-width="1.05"/>
<circle cx="687.20" cy="86.40" r="2.5" fill="none" stroke="#5a5ad2" stroke-width="1.05"/>
<circle cx="692.40" cy="85.20" r="2.5" fill="none" stroke="#5a5ad2" stroke-width="1.05"/>
<circle cx="682.60" cy="89.30" r="2.5" fill="none" stroke="#5a5ad2" stroke-width="1.05"/>
<circle cx="695.90" cy="89.30" r="2.5" fill="none" stroke="#5a5ad2" stroke-width="1.05"/>
<circle cx="686.60" cy="88.10" r="2.5" fill="none" stroke="#5a5ad2" stroke-width="1.05"/>
<circle cx="683.20" cy="95.60" r="2.5" fill="none" stroke="#5a5ad2" stroke-width="1.05"/>
<circle cx="683.20" cy="102.00" r="2.5" fill="none" stroke="#5a5ad2" stroke-width="1.05"/>
<path d="M698.80,204.70 V111.80 H715.00 V204.70" fill="none" stroke="#e755c8" stroke-width="2.4"/>
<path d="M702.65,106.00 H710.95 M702.65,119.30 H710.95 M706.80,106.00 V119.30" fill="none" stroke="#e755c8" stroke-width="1.9"/>
<circle cx="700.80" cy="102.00" r="2.5" fill="none" stroke="#e755c8" stroke-width="1.05"/>
<circle cx="709.20" cy="103.20" r="2.5" fill="none" stroke="#e755c8" stroke-width="1.05"/>
<circle cx="704.60" cy="106.00" r="2.5" fill="none" stroke="#e755c8" stroke-width="1.05"/>
<circle cx="713.20" cy="107.80" r="2.5" fill="none" stroke="#e755c8" stroke-width="1.05"/>
<circle cx="701.10" cy="108.40" r="2.5" fill="none" stroke="#e755c8" stroke-width="1.05"/>
<circle cx="708.60" cy="109.50" r="2.5" fill="none" stroke="#e755c8" stroke-width="1.05"/>
<circle cx="705.10" cy="111.20" r="2.5" fill="none" stroke="#e755c8" stroke-width="1.05"/>
<circle cx="701.70" cy="115.90" r="2.5" fill="none" stroke="#e755c8" stroke-width="1.05"/>
<circle cx="710.90" cy="115.90" r="2.5" fill="none" stroke="#e755c8" stroke-width="1.05"/>
<circle cx="701.10" cy="121.60" r="2.5" fill="none" stroke="#e755c8" stroke-width="1.05"/>
<circle cx="709.20" cy="120.50" r="2.5" fill="none" stroke="#e755c8" stroke-width="1.05"/>
<text transform="translate(702.20,220.70) rotate(-45)" font-size="14.5" text-anchor="end" fill="#000" stroke="#000" font-weight="bold" >PIN1+PID</text>
<path d="M726.00,204.70 V91.80 H741.30 V204.70" fill="none" stroke="#5a5ad2" stroke-width="2.4"/>
<path d="M729.35,82.10 H737.65 M729.35,98.50 H737.65 M733.50,82.10 V98.50" fill="none" stroke="#5a5ad2" stroke-width="1.9"/>
<circle cx="727.40" cy="78.30" r="2.5" fill="none" stroke="#5a5ad2" stroke-width="1.05"/>
<circle cx="727.10" cy="85.80" r="2.5" fill="none" stroke="#5a5ad2" stroke-width="1.05"/>
<circle cx="739.90" cy="82.30" r="2.5" fill="none" stroke="#5a5ad2" stroke-width="1.05"/>
<circle cx="739.90" cy="88.10" r="2.5" fill="none" stroke="#5a5ad2" stroke-width="1.05"/>
<circle cx="733.50" cy="82.30" r="2.5" fill="none" stroke="#5a5ad2" stroke-width="1.05"/>
<circle cx="733.50" cy="88.10" r="2.5" fill="none" stroke="#5a5ad2" stroke-width="1.05"/>
<circle cx="727.70" cy="92.70" r="2.5" fill="none" stroke="#5a5ad2" stroke-width="1.05"/>
<circle cx="739.30" cy="93.90" r="2.5" fill="none" stroke="#5a5ad2" stroke-width="1.05"/>
<circle cx="733.50" cy="98.50" r="2.5" fill="none" stroke="#5a5ad2" stroke-width="1.05"/>
<circle cx="733.50" cy="105.50" r="2.5" fill="none" stroke="#5a5ad2" stroke-width="1.05"/>
<path d="M743.00,204.70 V109.50 H759.20 V204.70" fill="none" stroke="#e755c8" stroke-width="2.4"/>
<path d="M746.95,98.50 H755.25 M746.95,120.00 H755.25 M751.10,98.50 V120.00" fill="none" stroke="#e755c8" stroke-width="1.9"/>
<circle cx="747.90" cy="88.10" r="2.5" fill="none" stroke="#e755c8" stroke-width="1.05"/>
<circle cx="751.10" cy="92.70" r="2.5" fill="none" stroke="#e755c8" stroke-width="1.05"/>
<circle cx="750.80" cy="102.60" r="2.5" fill="none" stroke="#e755c8" stroke-width="1.05"/>
<circle cx="745.60" cy="112.40" r="2.5" fill="none" stroke="#e755c8" stroke-width="1.05"/>
<circle cx="749.70" cy="111.80" r="2.5" fill="none" stroke="#e755c8" stroke-width="1.05"/>
<circle cx="754.30" cy="112.40" r="2.5" fill="none" stroke="#e755c8" stroke-width="1.05"/>
<circle cx="757.80" cy="113.60" r="2.5" fill="none" stroke="#e755c8" stroke-width="1.05"/>
<circle cx="747.40" cy="115.90" r="2.5" fill="none" stroke="#e755c8" stroke-width="1.05"/>
<circle cx="752.00" cy="116.40" r="2.5" fill="none" stroke="#e755c8" stroke-width="1.05"/>
<circle cx="756.00" cy="117.00" r="2.5" fill="none" stroke="#e755c8" stroke-width="1.05"/>
<text transform="translate(746.40,220.70) rotate(-45)" font-size="14.5" text-anchor="end" fill="#000" stroke="#000" font-weight="bold" >LPC</text>
<path d="M770.20,204.70 V91.00 H785.50 V204.70" fill="none" stroke="#5a5ad2" stroke-width="2.4"/>
<path d="M773.85,79.50 H782.15 M773.85,102.00 H782.15 M778.00,79.50 V102.00" fill="none" stroke="#5a5ad2" stroke-width="1.9"/>
<circle cx="771.60" cy="76.60" r="2.5" fill="none" stroke="#5a5ad2" stroke-width="1.05"/>
<circle cx="778.00" cy="74.20" r="2.5" fill="none" stroke="#5a5ad2" stroke-width="1.05"/>
<circle cx="784.40" cy="76.90" r="2.5" fill="none" stroke="#5a5ad2" stroke-width="1.05"/>
<circle cx="771.60" cy="89.30" r="2.5" fill="none" stroke="#5a5ad2" stroke-width="1.05"/>
<circle cx="784.40" cy="88.10" r="2.5" fill="none" stroke="#5a5ad2" stroke-width="1.05"/>
<circle cx="778.00" cy="89.90" r="2.5" fill="none" stroke="#5a5ad2" stroke-width="1.05"/>
<circle cx="778.00" cy="95.00" r="2.5" fill="none" stroke="#5a5ad2" stroke-width="1.05"/>
<circle cx="778.00" cy="99.70" r="2.5" fill="none" stroke="#5a5ad2" stroke-width="1.05"/>
<circle cx="771.60" cy="106.60" r="2.5" fill="none" stroke="#5a5ad2" stroke-width="1.05"/>
<circle cx="784.00" cy="105.20" r="2.5" fill="none" stroke="#5a5ad2" stroke-width="1.05"/>
<path d="M787.20,204.70 V122.40 H803.40 V204.70" fill="none" stroke="#e755c8" stroke-width="2.4"/>
<path d="M790.55,115.00 H798.85 M790.55,129.80 H798.85 M794.70,115.00 V129.80" fill="none" stroke="#e755c8" stroke-width="1.9"/>
<circle cx="801.60" cy="112.10" r="2.5" fill="none" stroke="#e755c8" stroke-width="1.05"/>
<circle cx="789.00" cy="114.00" r="2.5" fill="none" stroke="#e755c8" stroke-width="1.05"/>
<circle cx="793.50" cy="113.50" r="2.5" fill="none" stroke="#e755c8" stroke-width="1.05"/>
<circle cx="798.00" cy="113.00" r="2.5" fill="none" stroke="#e755c8" stroke-width="1.05"/>
<circle cx="790.00" cy="118.00" r="2.5" fill="none" stroke="#e755c8" stroke-width="1.05"/>
<circle cx="796.00" cy="118.50" r="2.5" fill="none" stroke="#e755c8" stroke-width="1.05"/>
<circle cx="789.80" cy="126.80" r="2.5" fill="none" stroke="#e755c8" stroke-width="1.05"/>
<circle cx="797.70" cy="126.80" r="2.5" fill="none" stroke="#e755c8" stroke-width="1.05"/>
<circle cx="802.20" cy="131.20" r="2.5" fill="none" stroke="#e755c8" stroke-width="1.05"/>
<circle cx="789.80" cy="133.00" r="2.5" fill="none" stroke="#e755c8" stroke-width="1.05"/>
<circle cx="797.70" cy="132.70" r="2.5" fill="none" stroke="#e755c8" stroke-width="1.05"/>
<text transform="translate(790.60,220.70) rotate(-45)" font-size="14.5" text-anchor="end" fill="#000" stroke="#000" font-weight="bold" >PA</text>
<path d="M814.40,204.70 V91.00 H829.70 V204.70" fill="none" stroke="#5a5ad2" stroke-width="2.4"/>
<path d="M817.75,78.30 H826.05 M817.75,102.00 H826.05 M821.90,78.30 V102.00" fill="none" stroke="#5a5ad2" stroke-width="1.9"/>
<circle cx="821.60" cy="74.80" r="2.5" fill="none" stroke="#5a5ad2" stroke-width="1.05"/>
<circle cx="828.60" cy="73.70" r="2.5" fill="none" stroke="#5a5ad2" stroke-width="1.05"/>
<circle cx="815.90" cy="82.90" r="2.5" fill="none" stroke="#5a5ad2" stroke-width="1.05"/>
<circle cx="815.90" cy="88.70" r="2.5" fill="none" stroke="#5a5ad2" stroke-width="1.05"/>
<circle cx="828.00" cy="87.50" r="2.5" fill="none" stroke="#5a5ad2" stroke-width="1.05"/>
<circle cx="821.60" cy="87.00" r="2.5" fill="none" stroke="#5a5ad2" stroke-width="1.05"/>
<circle cx="821.60" cy="92.70" r="2.5" fill="none" stroke="#5a5ad2" stroke-width="1.05"/>
<circle cx="821.60" cy="102.60" r="2.5" fill="none" stroke="#5a5ad2" stroke-width="1.05"/>
<circle cx="815.90" cy="107.20" r="2.5" fill="none" stroke="#5a5ad2" stroke-width="1.05"/>
<circle cx="828.60" cy="104.30" r="2.5" fill="none" stroke="#5a5ad2" stroke-width="1.05"/>
<path d="M831.40,204.70 V166.30 H847.60 V204.70" fill="none" stroke="#e755c8" stroke-width="2.4"/>
<path d="M835.55,152.10 H843.85 M835.55,178.70 H843.85 M839.70,152.10 V178.70" fill="none" stroke="#e755c8" stroke-width="1.9"/>
<circle cx="841.50" cy="144.50" r="2.5" fill="none" stroke="#e755c8" stroke-width="1.05"/>
<circle cx="846.00" cy="152.10" r="2.5" fill="none" stroke="#e755c8" stroke-width="1.05"/>
<circle cx="837.60" cy="152.50" r="2.5" fill="none" stroke="#e755c8" stroke-width="1.05"/>
<circle cx="842.00" cy="153.40" r="2.5" fill="none" stroke="#e755c8" stroke-width="1.05"/>
<circle cx="837.60" cy="157.40" r="2.5" fill="none" stroke="#e755c8" stroke-width="1.05"/>
<circle cx="833.10" cy="166.60" r="2.5" fill="none" stroke="#e755c8" stroke-width="1.05"/>
<circle cx="845.50" cy="166.60" r="2.5" fill="none" stroke="#e755c8" stroke-width="1.05"/>
<circle cx="837.60" cy="171.00" r="2.5" fill="none" stroke="#e755c8" stroke-width="1.05"/>
<circle cx="842.00" cy="170.20" r="2.5" fill="none" stroke="#e755c8" stroke-width="1.05"/>
<circle cx="837.60" cy="180.80" r="2.5" fill="none" stroke="#e755c8" stroke-width="1.05"/>
<circle cx="837.60" cy="191.40" r="2.5" fill="none" stroke="#e755c8" stroke-width="1.05"/>
<text transform="translate(834.80,220.70) rotate(-45)" font-size="14.5" text-anchor="end" fill="#000" stroke="#000" font-weight="bold" >LPA</text>
<path d="M709.2,98.5 V72.2 H748.3 V85.8 M709.2,72.2 V54.4 H793.0 V106.6 M709.2,54.4 V37.0" fill="none" stroke="#000" stroke-width="1.7"/>
<path d="M708.4,37.5 H842.4 V141" fill="none" stroke="#000" stroke-width="1.15"/>
<text x="771.30" y="41.00" font-size="15" text-anchor="middle" fill="#000" stroke="#000" font-weight="bold" >***</text>
<text x="746.20" y="58.20" font-size="15" text-anchor="middle" fill="#000" stroke="#000" font-weight="bold" >*</text>
<text x="730.00" y="71.00" font-size="14.5" text-anchor="middle" fill="#000" stroke="#000" font-weight="bold" >n.s.</text>
<line x1="719.30" y1="244.60" x2="837.70" y2="244.60" stroke="#000" stroke-width="2.0" />
<text x="739.49" y="262.40" font-size="14.90" style="letter-spacing:0.652px" fill="#000" stroke="#000" font-weight="bold" >PIN1+PID</text>
<line x1="539.30" y1="31.55" x2="539.30" y2="206.00" stroke="#000" stroke-width="2.3"/>
<line x1="529.10" y1="204.70" x2="857.20" y2="204.70" stroke="#000" stroke-width="2.3"/>
<line x1="529.10" y1="147.35" x2="539.30" y2="147.35" stroke="#000" stroke-width="2.1"/>
<line x1="529.10" y1="90.00" x2="539.30" y2="90.00" stroke="#000" stroke-width="2.1"/>
<line x1="529.10" y1="32.65" x2="539.30" y2="32.65" stroke="#000" stroke-width="2.1"/>
<line x1="565.20" y1="204.70" x2="565.20" y2="214.80" stroke="#000" stroke-width="2.1"/>
<line x1="609.40" y1="204.70" x2="609.40" y2="214.80" stroke="#000" stroke-width="2.1"/>
<line x1="653.60" y1="204.70" x2="653.60" y2="214.80" stroke="#000" stroke-width="2.1"/>
<line x1="697.80" y1="204.70" x2="697.80" y2="214.80" stroke="#000" stroke-width="2.1"/>
<line x1="742.00" y1="204.70" x2="742.00" y2="214.80" stroke="#000" stroke-width="2.1"/>
<line x1="786.20" y1="204.70" x2="786.20" y2="214.80" stroke="#000" stroke-width="2.1"/>
<line x1="830.40" y1="204.70" x2="830.40" y2="214.80" stroke="#000" stroke-width="2.1"/>
<text x="264.02" y="282.60" font-size="20.00" fill="#000" stroke="#000" font-weight="bold" >D</text>
<text x="321.60" y="479.90" font-size="16.2" text-anchor="end" fill="#000" stroke="#000" font-weight="bold" >0</text>
<text x="321.60" y="414.70" font-size="16.2" text-anchor="end" fill="#000" stroke="#000" font-weight="bold" >2</text>
<text x="321.60" y="349.50" font-size="16.2" text-anchor="end" fill="#000" stroke="#000" font-weight="bold" >4</text>
<text x="321.60" y="284.30" font-size="16.2" text-anchor="end" fill="#000" stroke="#000" font-weight="bold" >6</text>
<text transform="translate(306.20,487.91) rotate(-90)" font-size="16.50" style="letter-spacing:0.535px" fill="#000" stroke="#000" font-weight="bold" >Relative IAA transport rate</text>
<path d="M346.70,473.30 V435.00 H365.30 V473.30" fill="none" stroke="#5a5ad2" stroke-width="2.5"/>
<path d="M350.50,431.80 H361.50 M350.50,437.60 H361.50 M356.00,431.80 V437.60" fill="none" stroke="#5a5ad2" stroke-width="2.2"/>
<circle cx="347.70" cy="428.70" r="2.7" fill="none" stroke="#5a5ad2" stroke-width="1.15"/>
<circle cx="361.20" cy="429.20" r="2.7" fill="none" stroke="#5a5ad2" stroke-width="1.15"/>
<circle cx="354.50" cy="430.50" r="2.7" fill="none" stroke="#5a5ad2" stroke-width="1.15"/>
<circle cx="358.00" cy="431.30" r="2.7" fill="none" stroke="#5a5ad2" stroke-width="1.15"/>
<circle cx="347.70" cy="434.90" r="2.7" fill="none" stroke="#5a5ad2" stroke-width="1.15"/>
<circle cx="351.80" cy="434.90" r="2.7" fill="none" stroke="#5a5ad2" stroke-width="1.15"/>
<circle cx="356.20" cy="434.00" r="2.7" fill="none" stroke="#5a5ad2" stroke-width="1.15"/>
<circle cx="361.60" cy="435.80" r="2.7" fill="none" stroke="#5a5ad2" stroke-width="1.15"/>
<circle cx="364.20" cy="436.30" r="2.7" fill="none" stroke="#5a5ad2" stroke-width="1.15"/>
<circle cx="358.00" cy="437.50" r="2.7" fill="none" stroke="#5a5ad2" stroke-width="1.15"/>
<text transform="translate(360.40,490.80) rotate(-45)" font-size="16.3" text-anchor="end" fill="#000" stroke="#000" font-weight="bold" >PIN1</text>
<text x="351.45" y="420.50" font-size="17.00" fill="#000" stroke="#000" font-weight="bold" >b</text>
<path d="M380.10,473.30 V336.70 H398.70 V473.30" fill="none" stroke="#5a5ad2" stroke-width="2.5"/>
<path d="M383.80,313.00 H394.80 M383.80,358.60 H394.80 M389.30,313.00 V358.60" fill="none" stroke="#5a5ad2" stroke-width="2.2"/>
<circle cx="389.30" cy="293.00" r="2.7" fill="none" stroke="#5a5ad2" stroke-width="1.15"/>
<circle cx="389.30" cy="302.90" r="2.7" fill="none" stroke="#5a5ad2" stroke-width="1.15"/>
<circle cx="381.30" cy="330.80" r="2.7" fill="none" stroke="#5a5ad2" stroke-width="1.15"/>
<circle cx="397.60" cy="332.80" r="2.7" fill="none" stroke="#5a5ad2" stroke-width="1.15"/>
<circle cx="389.30" cy="335.10" r="2.7" fill="none" stroke="#5a5ad2" stroke-width="1.15"/>
<circle cx="389.30" cy="341.30" r="2.7" fill="none" stroke="#5a5ad2" stroke-width="1.15"/>
<circle cx="389.30" cy="349.40" r="2.7" fill="none" stroke="#5a5ad2" stroke-width="1.15"/>
<circle cx="397.60" cy="351.00" r="2.7" fill="none" stroke="#5a5ad2" stroke-width="1.15"/>
<circle cx="389.30" cy="356.30" r="2.7" fill="none" stroke="#5a5ad2" stroke-width="1.15"/>
<circle cx="389.30" cy="365.50" r="2.7" fill="none" stroke="#5a5ad2" stroke-width="1.15"/>
<text transform="translate(393.80,490.80) rotate(-45)" font-size="16.3" text-anchor="end" fill="#000" stroke="#000" font-weight="bold" >PIN1+LPA</text>
<text x="384.96" y="285.60" font-size="17.00" fill="#000" stroke="#000" font-weight="bold" >a</text>
<path d="M413.80,473.30 V432.20 H432.40 V473.30" fill="none" stroke="#5a5ad2" stroke-width="2.5"/>
<path d="M417.50,422.50 H428.50 M417.50,438.00 H428.50 M423.00,422.50 V438.00" fill="none" stroke="#5a5ad2" stroke-width="2.2"/>
<circle cx="425.70" cy="419.80" r="2.7" fill="none" stroke="#5a5ad2" stroke-width="1.15"/>
<circle cx="420.90" cy="424.30" r="2.7" fill="none" stroke="#5a5ad2" stroke-width="1.15"/>
<circle cx="425.70" cy="426.00" r="2.7" fill="none" stroke="#5a5ad2" stroke-width="1.15"/>
<circle cx="420.90" cy="430.10" r="2.7" fill="none" stroke="#5a5ad2" stroke-width="1.15"/>
<circle cx="415.60" cy="434.00" r="2.7" fill="none" stroke="#5a5ad2" stroke-width="1.15"/>
<circle cx="430.60" cy="432.20" r="2.7" fill="none" stroke="#5a5ad2" stroke-width="1.15"/>
<circle cx="424.40" cy="433.10" r="2.7" fill="none" stroke="#5a5ad2" stroke-width="1.15"/>
<circle cx="420.90" cy="438.40" r="2.7" fill="none" stroke="#5a5ad2" stroke-width="1.15"/>
<circle cx="420.30" cy="445.20" r="2.7" fill="none" stroke="#5a5ad2" stroke-width="1.15"/>
<circle cx="427.00" cy="437.00" r="2.7" fill="none" stroke="#5a5ad2" stroke-width="1.15"/>
<text transform="translate(427.50,490.80) rotate(-45)" font-size="16.3" text-anchor="end" fill="#000" stroke="#000" font-weight="bold" >mPIN1</text>
<text x="419.05" y="413.30" font-size="17.00" fill="#000" stroke="#000" font-weight="bold" >b</text>
<path d="M447.60,473.30 V420.40 H466.20 V473.30" fill="none" stroke="#5a5ad2" stroke-width="2.5"/>
<path d="M451.30,404.80 H462.30 M451.30,432.60 H462.30 M456.80,404.80 V432.60" fill="none" stroke="#5a5ad2" stroke-width="2.2"/>
<circle cx="456.60" cy="396.80" r="2.7" fill="none" stroke="#5a5ad2" stroke-width="1.15"/>
<circle cx="448.30" cy="406.20" r="2.7" fill="none" stroke="#5a5ad2" stroke-width="1.15"/>
<circle cx="465.10" cy="407.80" r="2.7" fill="none" stroke="#5a5ad2" stroke-width="1.15"/>
<circle cx="448.70" cy="413.30" r="2.7" fill="none" stroke="#5a5ad2" stroke-width="1.15"/>
<circle cx="456.80" cy="413.60" r="2.7" fill="none" stroke="#5a5ad2" stroke-width="1.15"/>
<circle cx="456.80" cy="424.30" r="2.7" fill="none" stroke="#5a5ad2" stroke-width="1.15"/>
<circle cx="448.70" cy="426.90" r="2.7" fill="none" stroke="#5a5ad2" stroke-width="1.15"/>
<circle cx="464.80" cy="429.60" r="2.7" fill="none" stroke="#5a5ad2" stroke-width="1.15"/>
<circle cx="456.80" cy="432.20" r="2.7" fill="none" stroke="#5a5ad2" stroke-width="1.15"/>
<circle cx="456.80" cy="437.50" r="2.7" fill="none" stroke="#5a5ad2" stroke-width="1.15"/>
<text transform="translate(461.30,490.80) rotate(-45)" font-size="16.3" text-anchor="end" fill="#000" stroke="#000" font-weight="bold" >mPIN1+LPA</text>
<text x="453.30" y="388.50" font-size="17.00" fill="#000" stroke="#000" font-weight="bold" >b</text>
<line x1="348.00" y1="434.60" x2="364.00" y2="434.60" stroke="#5a5ad2" stroke-width="2.6" opacity="0.7"/>
<line x1="334.80" y1="276.50" x2="334.80" y2="474.70" stroke="#000" stroke-width="2.5"/>
<line x1="324.40" y1="473.30" x2="479.30" y2="473.30" stroke="#000" stroke-width="2.5"/>
<line x1="324.40" y1="408.10" x2="334.80" y2="408.10" stroke="#000" stroke-width="2.3"/>
<line x1="324.40" y1="342.90" x2="334.80" y2="342.90" stroke="#000" stroke-width="2.3"/>
<line x1="324.40" y1="277.70" x2="334.80" y2="277.70" stroke="#000" stroke-width="2.3"/>
<line x1="355.60" y1="473.30" x2="355.60" y2="483.50" stroke="#000" stroke-width="2.3"/>
<line x1="389.00" y1="473.30" x2="389.00" y2="483.50" stroke="#000" stroke-width="2.3"/>
<line x1="422.70" y1="473.30" x2="422.70" y2="483.50" stroke="#000" stroke-width="2.3"/>
<line x1="456.50" y1="473.30" x2="456.50" y2="483.50" stroke="#000" stroke-width="2.3"/>
<text x="486.30" y="283.20" font-size="20.00" fill="#000" stroke="#000" font-weight="bold" >E</text>
<rect x="517" y="278" width="343.5" height="275.7" rx="47" ry="47" fill="#dce8f5"/>
<rect x="534.4" y="330.4" width="309.4" height="27.900000000000034" fill="#fff"/>
<path d="M535.7,333.9 V337.9 L536.7,339.9 L534.1,347.9 L535.7,349.9 V354.8 M539.1,333.9 V337.9 L540.1,339.9 L537.5,347.9 L539.1,349.9 V354.8 M548.3,333.9 V337.9 L549.3,339.9 L546.7,347.9 L548.3,349.9 V354.8 M551.7,333.9 V337.9 L552.7,339.9 L550.1,347.9 L551.7,349.9 V354.8 M561.0,333.9 V337.9 L562.0,339.9 L559.4,347.9 L561.0,349.9 V354.8 M564.4,333.9 V337.9 L565.4,339.9 L562.8,347.9 L564.4,349.9 V354.8 M573.6,333.9 V337.9 L574.6,339.9 L572.0,347.9 L573.6,349.9 V354.8 M577.0,333.9 V337.9 L578.0,339.9 L575.4,347.9 L577.0,349.9 V354.8 M586.3,333.9 V337.9 L587.3,339.9 L584.7,347.9 L586.3,349.9 V354.8 M589.7,333.9 V337.9 L590.7,339.9 L588.1,347.9 L589.7,349.9 V354.8 M598.9,333.9 V337.9 L599.9,339.9 L597.3,347.9 L598.9,349.9 V354.8 M602.3,333.9 V337.9 L603.3,339.9 L600.7,347.9 L602.3,349.9 V354.8 M611.5,333.9 V337.9 L612.5,339.9 L609.9,347.9 L611.5,349.9 V354.8 M614.9,333.9 V337.9 L615.9,339.9 L613.3,347.9 L614.9,349.9 V354.8 M624.2,333.9 V337.9 L625.2,339.9 L622.6,347.9 L624.2,349.9 V354.8 M627.6,333.9 V337.9 L628.6,339.9 L626.0,347.9 L627.6,349.9 V354.8 M636.8,333.9 V337.9 L637.8,339.9 L635.2,347.9 L636.8,349.9 V354.8 M640.2,333.9 V337.9 L641.2,339.9 L638.6,347.9 L640.2,349.9 V354.8 M649.5,333.9 V337.9 L650.5,339.9 L647.9,347.9 L649.5,349.9 V354.8 M652.9,333.9 V337.9 L653.9,339.9 L651.3,347.9 L652.9,349.9 V354.8 M662.1,333.9 V337.9 L663.1,339.9 L660.5,347.9 L662.1,349.9 V354.8 M665.5,333.9 V337.9 L666.5,339.9 L663.9,347.9 L665.5,349.9 V354.8 M674.7,333.9 V337.9 L675.7,339.9 L673.1,347.9 L674.7,349.9 V354.8 M678.1,333.9 V337.9 L679.1,339.9 L676.5,347.9 L678.1,349.9 V354.8 M687.4,333.9 V337.9 L688.4,339.9 L685.8,347.9 L687.4,349.9 V354.8 M690.8,333.9 V337.9 L691.8,339.9 L689.2,347.9 L690.8,349.9 V354.8 M700.0,333.9 V337.9 L701.0,339.9 L698.4,347.9 L700.0,349.9 V354.8 M703.4,333.9 V337.9 L704.4,339.9 L701.8,347.9 L703.4,349.9 V354.8 M712.7,333.9 V337.9 L713.7,339.9 L711.1,347.9 L712.7,349.9 V354.8 M716.1,333.9 V337.9 L717.1,339.9 L714.5,347.9 L716.1,349.9 V354.8 M775.9,333.9 V337.9 L776.9,339.9 L774.3,347.9 L775.9,349.9 V354.8 M779.3,333.9 V337.9 L780.3,339.9 L777.7,347.9 L779.3,349.9 V354.8 M788.5,333.9 V337.9 L789.5,339.9 L786.9,347.9 L788.5,349.9 V354.8 M791.9,333.9 V337.9 L792.9,339.9 L790.3,347.9 L791.9,349.9 V354.8 M801.1,333.9 V337.9 L802.1,339.9 L799.5,347.9 L801.1,349.9 V354.8 M804.5,333.9 V337.9 L805.5,339.9 L802.9,347.9 L804.5,349.9 V354.8 M813.8,333.9 V337.9 L814.8,339.9 L812.2,347.9 L813.8,349.9 V354.8 M817.2,333.9 V337.9 L818.2,339.9 L815.6,347.9 L817.2,349.9 V354.8 M826.4,333.9 V337.9 L827.4,339.9 L824.8,347.9 L826.4,349.9 V354.8 M829.8,333.9 V337.9 L830.8,339.9 L828.2,347.9 L829.8,349.9 V354.8 M839.1,333.9 V337.9 L840.1,339.9 L837.5,347.9 L839.1,349.9 V354.8 M842.5,333.9 V337.9 L843.5,339.9 L840.9,347.9 L842.5,349.9 V354.8" fill="none" stroke="#050505" stroke-width="1.6" stroke-linejoin="round"/>
<ellipse cx="537.4" cy="330.4" rx="6.6" ry="4.5" fill="url(#hd)"/>
<ellipse cx="537.4" cy="358.3" rx="6.6" ry="4.6" fill="url(#hd)"/>
<ellipse cx="550.0" cy="330.4" rx="6.6" ry="4.5" fill="url(#hd)"/>
<ellipse cx="550.0" cy="358.3" rx="6.6" ry="4.6" fill="url(#hd)"/>
<ellipse cx="562.7" cy="330.4" rx="6.6" ry="4.5" fill="url(#hd)"/>
<ellipse cx="562.7" cy="358.3" rx="6.6" ry="4.6" fill="url(#hd)"/>
<ellipse cx="575.3" cy="330.4" rx="6.6" ry="4.5" fill="url(#hd)"/>
<ellipse cx="575.3" cy="358.3" rx="6.6" ry="4.6" fill="url(#hm)"/>
<ellipse cx="588.0" cy="330.4" rx="6.6" ry="4.5" fill="url(#hd)"/>
<ellipse cx="588.0" cy="358.3" rx="6.6" ry="4.6" fill="url(#hm)"/>
<ellipse cx="600.6" cy="330.4" rx="6.6" ry="4.5" fill="url(#hd)"/>
<ellipse cx="600.6" cy="358.3" rx="6.6" ry="4.6" fill="url(#hm)"/>
<ellipse cx="613.2" cy="330.4" rx="6.6" ry="4.5" fill="url(#hd)"/>
<ellipse cx="613.2" cy="358.3" rx="6.6" ry="4.6" fill="url(#hm)"/>
<ellipse cx="625.9" cy="330.4" rx="6.6" ry="4.5" fill="url(#hd)"/>
<ellipse cx="625.9" cy="358.3" rx="6.6" ry="4.6" fill="url(#hm)"/>
<ellipse cx="638.5" cy="330.4" rx="6.6" ry="4.5" fill="url(#hd)"/>
<ellipse cx="638.5" cy="358.3" rx="6.6" ry="4.6" fill="url(#hd)"/>
<ellipse cx="651.2" cy="330.4" rx="6.6" ry="4.5" fill="url(#hd)"/>
<ellipse cx="651.2" cy="358.3" rx="6.6" ry="4.6" fill="url(#hd)"/>
<ellipse cx="663.8" cy="330.4" rx="6.6" ry="4.5" fill="url(#hd)"/>
<ellipse cx="663.8" cy="358.3" rx="6.6" ry="4.6" fill="url(#hd)"/>
<ellipse cx="676.4" cy="330.4" rx="6.6" ry="4.5" fill="url(#hd)"/>
<ellipse cx="676.4" cy="358.3" rx="6.6" ry="4.6" fill="url(#hd)"/>
<ellipse cx="689.1" cy="330.4" rx="6.6" ry="4.5" fill="url(#hd)"/>
<ellipse cx="689.1" cy="358.3" rx="6.6" ry="4.6" fill="url(#hm)"/>
<ellipse cx="701.7" cy="330.4" rx="6.6" ry="4.5" fill="url(#hd)"/>
<ellipse cx="701.7" cy="358.3" rx="6.6" ry="4.6" fill="url(#hm)"/>
<ellipse cx="714.4" cy="330.4" rx="6.6" ry="4.5" fill="url(#hd)"/>
<ellipse cx="714.4" cy="358.3" rx="6.6" ry="4.6" fill="url(#hm)"/>
<ellipse cx="777.6" cy="330.4" rx="6.6" ry="4.5" fill="url(#hd)"/>
<ellipse cx="777.6" cy="358.3" rx="6.6" ry="4.6" fill="url(#hm)"/>
<ellipse cx="790.2" cy="330.4" rx="6.6" ry="4.5" fill="url(#hd)"/>
<ellipse cx="790.2" cy="358.3" rx="6.6" ry="4.6" fill="url(#hm)"/>
<ellipse cx="802.8" cy="330.4" rx="6.6" ry="4.5" fill="url(#hd)"/>
<ellipse cx="802.8" cy="358.3" rx="6.6" ry="4.6" fill="url(#hm)"/>
<ellipse cx="815.5" cy="330.4" rx="6.6" ry="4.5" fill="url(#hd)"/>
<ellipse cx="815.5" cy="358.3" rx="6.6" ry="4.6" fill="url(#hd)"/>
<ellipse cx="828.1" cy="330.4" rx="6.6" ry="4.5" fill="url(#hd)"/>
<ellipse cx="828.1" cy="358.3" rx="6.6" ry="4.6" fill="url(#hd)"/>
<ellipse cx="840.8" cy="330.4" rx="6.6" ry="4.5" fill="url(#hd)"/>
<ellipse cx="840.8" cy="358.3" rx="6.6" ry="4.6" fill="url(#hd)"/>
<path d="M532.8,362 V508 Q532.8,544 570,544 H808 Q844.4,544 844.4,508 V362" fill="none" stroke="#0a0a0a" stroke-width="3" stroke-dasharray="11.5 3.6"/>
<text x="755.70" y="297.80" font-size="16.6" text-anchor="middle" textLength="137.30" lengthAdjust="spacingAndGlyphs" fill="#000" stroke="#000" font-weight="bold" >Auxin transport</text>
<line x1="746.5" y1="326.0" x2="746.5" y2="311.5" stroke="#000" stroke-width="3.4"/>
<polygon points="746.5,302.0 752.0,311.5 741.0,311.5" fill="#000"/>
<line x1="746.50" y1="364.00" x2="746.50" y2="378.00" stroke="#000" stroke-width="3.6" />
<circle cx="731.0" cy="380.4" r="6.1" fill="url(#hm)"/>
<path d="M713.0,361.8 C713.2,363.3 712.9,367.7 714.3,371.1 C715.6,374.5 718.6,379.5 721.1,382.2 C723.5,384.9 726.4,387.2 728.7,387.4 C731.1,387.6 733.5,385.3 734.9,383.5 C736.4,381.7 736.0,377.3 737.4,376.6 C738.8,376.0 741.6,377.8 743.4,379.7 C745.2,381.7 747.1,385.7 748.3,388.4 C749.6,391.1 749.7,394.1 750.8,395.8 C751.9,397.6 752.7,398.9 755.1,399.1 C757.6,399.3 763.4,398.2 765.7,397.1 C768.0,395.9 768.5,394.0 768.9,392.1 C769.3,390.3 768.8,387.9 767.9,385.9 C767.1,384.0 764.6,382.0 763.8,380.4 C763.1,378.7 762.8,377.3 763.4,376.0 C764.1,374.8 765.3,373.8 767.5,372.9 C769.8,372.1 774.3,372.0 776.8,370.8 C779.3,369.7 781.2,367.7 782.4,366.1 C783.6,364.5 784.0,362.0 784.3,361.2" fill="none" stroke="#4373a2" stroke-width="2.8" stroke-linecap="round"/>
<circle cx="770.0" cy="378.3" r="6.1" fill="url(#hm)"/>
<circle cx="742.5" cy="394.4" r="6.1" fill="url(#hm)"/>
<path d="M720.8,330.5 A25.7,7.5 0 0 1 772.2,330.5 V357.1 A25.7,7.5 0 0 1 720.8,357.1 Z" fill="#6fb4ee" stroke="#6fb4ee" stroke-width="3.5" filter="url(#glow)" opacity="0.75"/>
<path d="M720.8,330.5 A25.7,7.5 0 0 1 772.2,330.5 V357.1 A25.7,7.5 0 0 1 720.8,357.1 Z" fill="#92d050" stroke="#2f6a5a" stroke-width="0.9"/>
<path d="M720.8,357.1 A25.7,7.5 0 0 1 772.2,357.1" fill="none" stroke="#2f6a5a" stroke-width="0.9"/>
<text x="726.67" y="343.00" font-size="17.00" fill="#000" stroke="#000" font-weight="bold" >PIN1</text>
<ellipse cx="763.2" cy="405.2" rx="10.5" ry="10" fill="#e83030" filter="url(#glow2)" opacity="0.8"/>
<ellipse cx="763.2" cy="405.2" rx="7.3" ry="6.7" fill="url(#pr)"/>
<text x="763.30" y="409.30" font-size="11" text-anchor="middle" fill="#fff" stroke="#fff" font-weight="bold" >P</text>
<line x1="739.4" y1="418.8" x2="739.4" y2="456.6" stroke="#000" stroke-width="4.4"/>
<polygon points="739.4,466.6 733.6,456.6 745.2,456.6" fill="#000"/>
<line x1="759.2" y1="466.8" x2="759.2" y2="429.5" stroke="#000" stroke-width="4.4"/>
<polygon points="759.2,419.0 765.2,429.5 753.2,429.5" fill="#000"/>
<text transform="translate(730.60,437.30) rotate(-90)" font-size="9.8" text-anchor="middle" textLength="57.00" lengthAdjust="spacingAndGlyphs" fill="#000" stroke="#000" font-weight="bold" >Endocytosis</text>
<text transform="translate(770.60,444.30) rotate(90)" font-size="9.8" text-anchor="middle" textLength="45.00" lengthAdjust="spacingAndGlyphs" fill="#000" stroke="#000" font-weight="bold" >Recycling</text>
<path d="M727.2,476.9 A8.8,2.6 0 0 1 744.8,476.9 V484.1 A8.8,2.6 0 0 1 727.2,484.1 Z" fill="#6fb4ee" stroke="#6fb4ee" stroke-width="3.5" filter="url(#glow)" opacity="0.75"/>
<path d="M727.2,476.9 A8.8,2.6 0 0 1 744.8,476.9 V484.1 A8.8,2.6 0 0 1 727.2,484.1 Z" fill="#92d050" stroke="#2f6a5a" stroke-width="0.7"/>
<ellipse cx="736" cy="476.9" rx="8.75" ry="2.6" fill="#a4dc60" stroke="#3c6c8c" stroke-width="0.7"/>
<path d="M761.0,482.1 A8.8,2.6 0 0 1 778.5,482.1 V489.3 A8.8,2.6 0 0 1 761.0,489.3 Z" fill="#6fb4ee" stroke="#6fb4ee" stroke-width="3.5" filter="url(#glow)" opacity="0.75"/>
<path d="M761.0,482.1 A8.8,2.6 0 0 1 778.5,482.1 V489.3 A8.8,2.6 0 0 1 761.0,489.3 Z" fill="#92d050" stroke="#2f6a5a" stroke-width="0.7"/>
<ellipse cx="769.7" cy="482.1" rx="8.75" ry="2.6" fill="#a4dc60" stroke="#3c6c8c" stroke-width="0.7"/>
<path d="M730.5,500.8 A8.8,2.6 0 0 1 748.0,500.8 V508.0 A8.8,2.6 0 0 1 730.5,508.0 Z" fill="#6fb4ee" stroke="#6fb4ee" stroke-width="3.5" filter="url(#glow)" opacity="0.75"/>
<path d="M730.5,500.8 A8.8,2.6 0 0 1 748.0,500.8 V508.0 A8.8,2.6 0 0 1 730.5,508.0 Z" fill="#92d050" stroke="#2f6a5a" stroke-width="0.7"/>
<ellipse cx="739.3" cy="500.8" rx="8.75" ry="2.6" fill="#a4dc60" stroke="#3c6c8c" stroke-width="0.7"/>
<path d="M759.6,506.7 A8.8,2.6 0 0 1 777.1,506.7 V513.9 A8.8,2.6 0 0 1 759.6,513.9 Z" fill="#6fb4ee" stroke="#6fb4ee" stroke-width="3.5" filter="url(#glow)" opacity="0.75"/>
<path d="M759.6,506.7 A8.8,2.6 0 0 1 777.1,506.7 V513.9 A8.8,2.6 0 0 1 759.6,513.9 Z" fill="#92d050" stroke="#2f6a5a" stroke-width="0.7"/>
<ellipse cx="768.4" cy="506.7" rx="8.75" ry="2.6" fill="#a4dc60" stroke="#3c6c8c" stroke-width="0.7"/>
<circle cx="720.6" cy="477.7" r="5.4" fill="url(#hm)"/>
<circle cx="755.8" cy="487" r="5.4" fill="url(#hm)"/>
<text x="753.20" y="533.20" font-size="16.5" text-anchor="middle" textLength="37.80" lengthAdjust="spacingAndGlyphs" fill="#000" stroke="#000" font-weight="bold" >PIN1</text>
<text x="600.00" y="442.20" font-size="16.5" text-anchor="middle" textLength="34.20" lengthAdjust="spacingAndGlyphs" fill="#000" stroke="#000" font-weight="bold" >LPA</text>
<circle cx="622.8" cy="437.3" r="5.2" fill="url(#hm)"/>
<text x="601.90" y="495.50" font-size="16.5" text-anchor="middle" textLength="48.40" lengthAdjust="spacingAndGlyphs" fill="#000" stroke="#000" font-weight="bold" >G-3-P</text>
<text x="604.90" y="534.80" font-size="16.5" text-anchor="middle" textLength="60.30" lengthAdjust="spacingAndGlyphs" fill="#000" stroke="#000" font-weight="bold" >Stimuli</text>
<text transform="translate(592.60,464.00) rotate(-90)" font-size="12.5" text-anchor="middle" textLength="30.50" lengthAdjust="spacingAndGlyphs" fill="#ac30bc" stroke="#ac30bc" font-weight="bold" >GPAT</text>
<line x1="602.2" y1="481.0" x2="602.2" y2="455.5" stroke="#000" stroke-width="4"/>
<polygon points="602.2,445.5 608.0,455.5 596.5,455.5" fill="#000"/>
<line x1="602.7" y1="521.0" x2="602.7" y2="509.5" stroke="#000" stroke-width="4"/>
<polygon points="602.7,500.5 608.5,509.5 597.0,509.5" fill="#000"/>
<line x1="601.0" y1="429.0" x2="601.0" y2="378.5" stroke="#000" stroke-width="3.2" stroke-dasharray="3 3"/>
<polygon points="601.0,369.0 606.8,378.5 595.2,378.5" fill="#000"/>
<line x1="632.7" y1="442.4" x2="695.1" y2="468.7" stroke="#000" stroke-width="3.2" stroke-dasharray="3 3"/>
<polygon points="704.3,472.6 692.9,473.8 697.2,463.6" fill="#000"/>
</svg>
</body></html>
